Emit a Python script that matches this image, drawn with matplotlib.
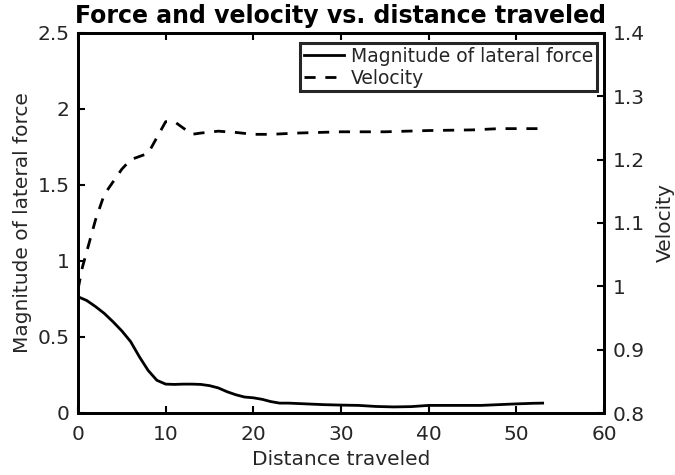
import numpy as np
import matplotlib
matplotlib.use("Agg")
import matplotlib.pyplot as plt

# Force magnitude vs distance
dist_force = [0, 1, 2, 3, 4, 5, 6, 7, 8, 9, 10, 11, 12, 13, 14, 15, 16, 17, 18,
              19, 20, 21, 22, 23, 24, 26, 28, 30, 32, 34, 36, 38, 40, 42, 44,
              46, 48, 50, 52, 53]
force = [0.765, 0.74, 0.70, 0.655, 0.60, 0.54, 0.47, 0.37, 0.28, 0.215, 0.19,
         0.188, 0.19, 0.19, 0.188, 0.18, 0.165, 0.14, 0.12, 0.105, 0.10, 0.09,
         0.075, 0.065, 0.065, 0.06, 0.055, 0.052, 0.05, 0.043, 0.04, 0.042,
         0.05, 0.05, 0.05, 0.05, 0.055, 0.06, 0.064, 0.065]

# Velocity vs distance
dist_vel = [0, 0.5, 1, 2, 3, 4, 5, 6, 7, 8, 9, 10, 11, 12, 13, 14, 16, 18, 20,
            22, 25, 30, 35, 40, 45, 48, 50, 53]
velocity = [0.995, 1.03, 1.055, 1.105, 1.145, 1.165, 1.185, 1.20, 1.205, 1.21,
            1.235, 1.26, 1.26, 1.25, 1.24, 1.242, 1.245, 1.243, 1.240, 1.240,
            1.242, 1.244, 1.244, 1.246, 1.247, 1.249, 1.249, 1.249]

x_ticks = [0, 10, 20, 30, 40, 50, 60]
force_ticks = [0, 0.5, 1, 1.5, 2, 2.5]
force_labels = ["0", "0.5", "1", "1.5", "2", "2.5"]
vel_ticks = [0.8, 0.9, 1.0, 1.1, 1.2, 1.3, 1.4]
vel_labels = ["0.8", "0.9", "1", "1.1", "1.2", "1.3", "1.4"]

text_color = "#262626"
fs = 14.5

fig = plt.figure(figsize=(6.75, 4.75), dpi=100)
ax = fig.add_axes([78 / 675, 1 - 413 / 475, 526 / 675, 380 / 475])
ax2 = ax.twinx()

l1, = ax.plot(dist_force, force, color="black", lw=2, ls="-",
              label="Magnitude of lateral force")
l2, = ax2.plot(dist_vel, velocity, color="black", lw=2, ls=(0, (4, 3.5)),
               label="Velocity")

ax.set_xlim(0, 60)
ax.set_ylim(0, 2.5)
ax2.set_ylim(0.8, 1.4)
ax.set_xticks(x_ticks)
ax.set_yticks(force_ticks)
ax.set_yticklabels(force_labels)
ax2.set_yticks(vel_ticks)
ax2.set_yticklabels(vel_labels)

for a in (ax, ax2):
    for sp in a.spines.values():
        sp.set_linewidth(2)
        sp.set_color("black")
    a.tick_params(direction="in", length=5, width=1.5, labelsize=fs,
                  labelcolor=text_color, pad=6)
ax.tick_params(axis="x", top=True, labeltop=False, pad=9)

ax.set_xlabel("Distance traveled", fontsize=fs, color=text_color, labelpad=4)
ax.set_ylabel("Magnitude of lateral force", fontsize=fs, color=text_color,
              labelpad=4)
ax2.set_ylabel("Velocity", fontsize=fs, color=text_color, labelpad=8)
ax.set_title("Force and velocity vs. distance traveled", fontsize=17,
             fontweight="bold", color="black", pad=7)

leg = ax2.legend(handles=[l1, l2], loc="upper right",
                 bbox_to_anchor=(597 / 675, 1 - 43 / 475),
                 bbox_transform=fig.transFigure, fontsize=13.5,
                 frameon=True, fancybox=False, handlelength=2.15,
                 handletextpad=0.35, borderpad=0.2, labelspacing=0.15,
                 borderaxespad=0)
leg.get_frame().set_edgecolor("#262626")
leg.get_frame().set_linewidth(2.2)
leg.get_frame().set_alpha(1)
for t in leg.get_texts():
    t.set_color(text_color)

fig.savefig("out.png", dpi=100)
